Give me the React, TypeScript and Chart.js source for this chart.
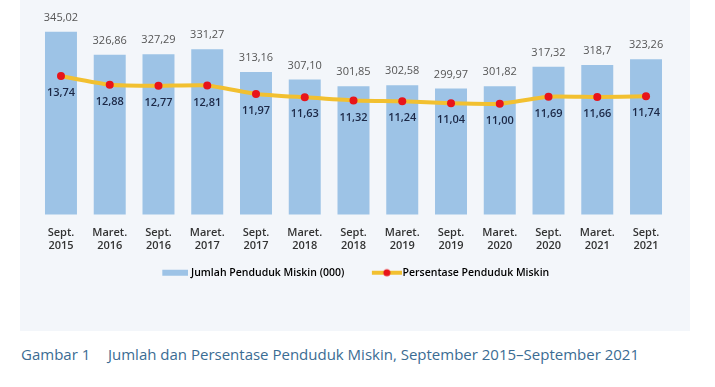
import React, { useEffect, useRef } from "react";
import { Chart, registerables } from "chart.js";

Chart.register(...registerables);

const categories = [
  "Sept. 2015", "Maret. 2016", "Sept. 2016", "Maret. 2017", "Sept. 2017",
  "Maret. 2018", "Sept. 2018", "Maret. 2019", "Sept. 2019", "Maret. 2020",
  "Sept. 2020", "Maret. 2021", "Sept. 2021",
];
const poorCountLabels = [
  "345,02", "326,86", "327,29", "331,27", "313,16", "307,10", "301,85",
  "302,58", "299,97", "301,82", "317,32", "318,7", "323,26",
];
const poorPctLabels = [
  "13,74", "12,88", "12,77", "12,81", "11,97", "11,63", "11,32",
  "11,24", "11,04", "11,00", "11,69", "11,66", "11,74",
];
const seriesNames = ["Jumlah Penduduk Miskin (000)", "Persentase Penduduk Miskin"];
const captionNumber = "Gambar 1";
const captionText = "Jumlah dan Persentase Penduduk Miskin, September 2015–September 2021";

const toNum = (s: string) => parseFloat(s.replace(",", "."));
const poorCount = poorCountLabels.map(toNum);
const poorPct = poorPctLabels.map(toNum);

const BAR_COLOR = "#9dc3e6";
const LINE_COLOR = "#f2c030";
const POINT_COLOR = "#e8141a";
const FONT = "'Open Sans', 'Noto Sans', sans-serif";

function makeBarIcon() {
  const c = document.createElement("canvas");
  c.width = 41;
  c.height = 10;
  const ctx = c.getContext("2d")!;
  ctx.fillStyle = BAR_COLOR;
  ctx.fillRect(15, 2, 26, 6);
  return c;
}
function makeLineIcon() {
  const c = document.createElement("canvas");
  c.width = 45;
  c.height = 10;
  const ctx = c.getContext("2d")!;
  ctx.strokeStyle = LINE_COLOR;
  ctx.lineWidth = 4;
  ctx.beginPath();
  ctx.moveTo(15, 5);
  ctx.lineTo(45, 5);
  ctx.stroke();
  ctx.fillStyle = POINT_COLOR;
  ctx.beginPath();
  ctx.arc(30, 5, 3.5, 0, Math.PI * 2);
  ctx.fill();
  return c;
}

const valueLabelPlugin = {
  id: "valueLabels",
  afterLayout(chart: any) {
    if (chart.legend) {
      chart.legend.left -= 4;
      chart.legend.right -= 4;
    }
  },
  afterDatasetsDraw(chart: any) {
    const ctx = chart.ctx;
    ctx.save();
    ctx.textAlign = "center";
    ctx.textBaseline = "middle";
    const barMeta = chart.getDatasetMeta(0);
    ctx.font = `400 11px ${FONT}`;
    ctx.fillStyle = "#555555";
    barMeta.data.forEach((el: any, i: number) => {
      ctx.fillText(poorCountLabels[i], el.x, el.y - 14);
    });
    const lineMeta = chart.getDatasetMeta(1);
    ctx.font = `600 11px ${FONT}`;
    ctx.fillStyle = "#1c2846";
    lineMeta.data.forEach((el: any, i: number) => {
      ctx.fillText(poorPctLabels[i], el.x, el.y + 17);
    });
    ctx.restore();
  },
};

export default function App() {
  const canvasRef = useRef<HTMLCanvasElement>(null);

  useEffect(() => {
    const barIcon = makeBarIcon();
    const lineIcon = makeLineIcon();
    const chart = new Chart(canvasRef.current!, {
      type: "bar",
      data: {
        labels: categories.map((c) => c.split(" ")),
        datasets: [
          {
            type: "bar",
            label: seriesNames[0],
            data: poorCount,
            backgroundColor: BAR_COLOR,
            borderWidth: 0,
            barPercentage: 0.82,
            categoryPercentage: 0.8,
            yAxisID: "y",
            order: 2,
          },
          {
            type: "line",
            label: seriesNames[1],
            data: poorPct,
            borderColor: LINE_COLOR,
            borderWidth: 4,
            tension: 0.15,
            pointRadius: 4,
            pointBackgroundColor: POINT_COLOR,
            pointBorderWidth: 0,
            yAxisID: "y1",
            order: 1,
          },
        ],
      } as any,
      options: {
        animation: false,
        responsive: false,
        maintainAspectRatio: false,
        layout: { padding: { left: 16.6, right: 19.6, top: 13, bottom: 43 } },
        scales: {
          x: {
            grid: { display: false, drawTicks: false, tickLength: 0 },
            border: { display: false },
            afterFit: (scale: any) => {
              scale.height = 36;
            },
            ticks: {
              padding: 12,
              color: "#333333",
              font: { family: FONT, size: 11, weight: 600 as any, lineHeight: 1.2 },
              maxRotation: 0,
              autoSkip: false,
            },
          },
          y: { display: false, min: 200, max: 360 },
          y1: { display: false, min: 0, max: 20, position: "right" },
        },
        plugins: {
          tooltip: { enabled: false },
          legend: {
            position: "bottom",
            labels: {
              usePointStyle: true,
              pointStyleWidth: 36,
              padding: 17,
              color: "#222222",
              font: { family: FONT, size: 10.5, weight: 600 as any },
              generateLabels: () => [
                { text: seriesNames[0], pointStyle: barIcon, datasetIndex: 0, hidden: false, lineWidth: 0, fillStyle: BAR_COLOR, strokeStyle: BAR_COLOR } as any,
                { text: seriesNames[1], pointStyle: lineIcon, datasetIndex: 1, hidden: false, lineWidth: 0, fillStyle: LINE_COLOR, strokeStyle: LINE_COLOR } as any,
              ],
            },
          },
        },
      } as any,
      plugins: [valueLabelPlugin],
    });
    return () => chart.destroy();
  }, []);

  return (
    <div style={{ position: "absolute", left: 0, top: 0, width: 715, height: 387, background: "#ffffff", overflow: "hidden" }}>
      <div style={{ position: "absolute", left: 20, top: 0, width: 670, height: 331, background: "#f3f6fa" }}>
        <canvas ref={canvasRef} width={670} height={331} style={{ display: "block", width: 670, height: 331 }} />
      </div>
      <div
        style={{
          position: "absolute",
          left: 21,
          top: 343,
          fontFamily: FONT,
          fontSize: 15,
          lineHeight: "22px",
          color: "#3b6c93",
          whiteSpace: "nowrap",
        }}
      >
        <span style={{ display: "inline-block", width: 87 }}>{captionNumber}</span>
        <span>{captionText}</span>
      </div>
    </div>
  );
}
